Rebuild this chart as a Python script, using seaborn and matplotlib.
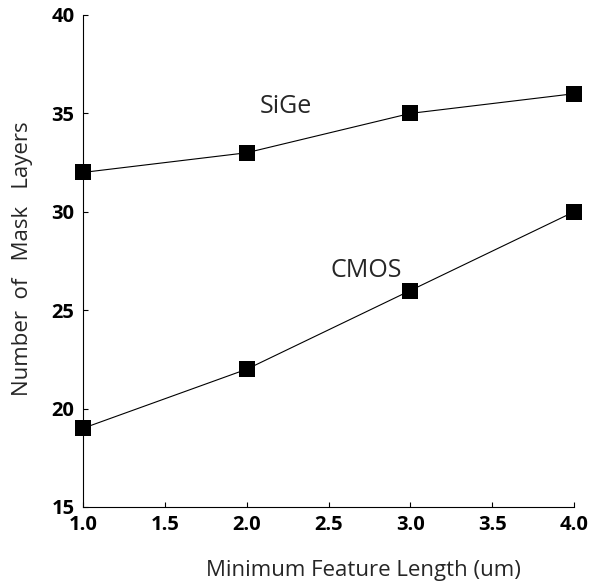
import matplotlib
matplotlib.use("Agg")
import matplotlib.pyplot as plt
import seaborn as sns
import pandas as pd

# Mask layer counts versus minimum feature length
feature_length = [1.0, 2.0, 3.0, 4.0]
sige_layers = [32, 33, 35, 36]
cmos_layers = [19, 22, 26, 30]
series_names = ["SiGe", "CMOS"]
x_ticks = [1.0, 1.5, 2.0, 2.5, 3.0, 3.5, 4.0]
y_ticks = [15, 20, 25, 30, 35, 40]

df = pd.DataFrame({
    "length": feature_length * 2,
    "layers": sige_layers + cmos_layers,
    "process": [series_names[0]] * len(feature_length) + [series_names[1]] * len(feature_length),
})

sns.set_style("ticks", rc={
    "xtick.direction": "in", "ytick.direction": "in",
    "xtick.major.size": 8.6, "ytick.major.size": 8.6,
    "xtick.major.width": 1.0, "ytick.major.width": 1.0,
    "xtick.color": "black", "ytick.color": "black",
    "axes.edgecolor": "black", "axes.linewidth": 1.1,
    "xtick.bottom": True, "ytick.left": True,
})
plt.rcParams["font.family"] = ["Open Sans", "DejaVu Sans"]

fig = plt.figure(figsize=(5.89, 5.84), dpi=100)
ax = fig.add_axes([83 / 589, 77 / 584, 491 / 589, 492 / 584])

sns.lineplot(
    data=df, x="length", y="layers", hue="process", style="process",
    palette=["black", "black"], markers=["s", "s"], dashes=False,
    markersize=11.5, linewidth=0.8, markeredgewidth=0, legend=False, ax=ax,
)
for line in ax.lines:
    line.set_clip_on(False)

ax.set_xlim(1.0, 4.0)
ax.set_ylim(15, 40)
ax.set_xticks(x_ticks)
ax.set_yticks(y_ticks)
ax.set_xticklabels([f"{t:.1f}" for t in x_ticks], fontsize=14.5, fontweight="bold")
ax.set_yticklabels([str(t) for t in y_ticks], fontsize=14.5, fontweight="bold")
ax.tick_params(axis="x", pad=5.5)
ax.tick_params(axis="y", pad=6.0)

sns.despine(ax=ax)

ax.set_xlabel("Minimum Feature Length (um)", fontsize=16)
ax.xaxis.label.set_va("center")
ax.xaxis.set_label_coords(0.572, -0.130)
ax.set_ylabel("Number  of   Mask   Layers", fontsize=16)
ax.yaxis.label.set_va("center")
ax.yaxis.set_label_coords(-0.124, 0.504)

ax.text(2.24, 35.33, series_names[0], fontsize=18, ha="center", va="center")
ax.text(2.73, 27.0, series_names[1], fontsize=18, ha="center", va="center")

fig.savefig("out.png", dpi=100)
